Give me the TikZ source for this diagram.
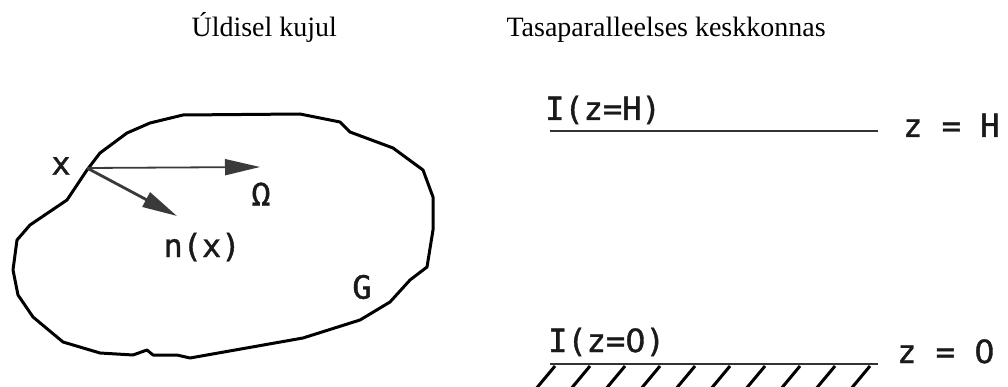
\documentclass[tikz,border=0pt]{standalone}
\usepackage{fontspec}
\setmainfont{Liberation Serif}
\newfontfamily\labfont[FakeBold=1.2]{DejaVu Sans Mono}
\newfontfamily\zerofont[FakeBold=1.2]{DejaVu Sans}
\usetikzlibrary{arrows.meta,calc}
\definecolor{arrgray}{HTML}{3A3A3A}
\definecolor{linegray}{HTML}{333333}
\definecolor{txtcol}{HTML}{1A1A1A}

\begin{document}
\begin{tikzpicture}[x=1pt,y=-1pt,
  title/.style={anchor=base west,font=\fontsize{28}{32}\selectfont},
  lab/.style={font=\labfont\fontsize{32}{36}\selectfont,text=txtcol,inner sep=0pt},
  vec/.style={-{Triangle[length=35pt,width=16pt]},arrgray}]
  \useasboundingbox (0,0) rectangle (1008,387);
  \node[title] (t1) at (188,37) {Úldisel kujul};
  \node[title] (t2) at (503,37) {Tasaparalleelses keskkonnas};
  \draw[line width=3pt,line join=round] (183,115) -- (300,114) -- (340,122) -- (350,132) -- (393,148)
    -- (423,170) -- (433,197) -- (433,230) -- (427,267) -- (410,280) -- (390,302) -- (360,320)
    -- (303,338) -- (190,358) -- (177,355) -- (153,355) -- (147,350) -- (133,355) -- (100,353)
    -- (63,342) -- (33,317) -- (18,295) -- (13,270) -- (17,240) -- (30,225) -- (67,200)
    -- (87,170) -- (100,153) -- (127,133) -- (150,123) -- cycle;
  \coordinate (xp) at (87,168);
  \coordinate (om) at (260,167);
  \coordinate (nx) at (177,216);
  \draw[vec,line width=1.8pt] (xp) -- (om);
  \draw[vec,line width=2.8pt] (xp) -- (nx);
  \node[lab] (xlab) at (61,166) {x};
  \node[lab] (omlab) at (261,194) {Ω};
  \node[lab] (nlab) at (202,247) {n(x)};
  \node[lab] (glab) at (362,287) {G};
  \coordinate (hl) at (550,131);
  \coordinate (hr) at (878,131);
  \draw[line width=2.5pt,linegray] (hl) -- (hr);
  \node[lab,anchor=base west] (ih) at (545,120) {I(z=H)};
  \node[lab,anchor=base west] (zh) at (903,137) {z = H};
  \coordinate (bl) at (550,364);
  \coordinate (br) at (878,364);
  \draw[line width=2.5pt,linegray] (bl) -- (br);
  \node[lab,anchor=base west] (i0) at (548,352) {I(z={\zerofont 0})};
  \node[lab,anchor=base west] (z0) at (897,363) {z = {\zerofont 0}};
  \foreach \hx in {555,590,...,870}
    \draw[line width=3pt] (\hx,366) -- ++(-20,24);
\end{tikzpicture}
\end{document}
